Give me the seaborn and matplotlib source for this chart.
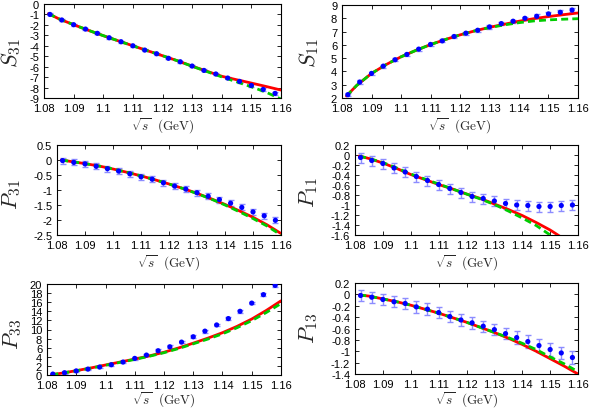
import numpy as np
import pandas as pd
import matplotlib
matplotlib.use("Agg")
import matplotlib.pyplot as plt
import seaborn as sns

sns.set_theme(style="ticks")
plt.rcParams['font.family'] = ['Liberation Sans', 'DejaVu Sans']
plt.rcParams['mathtext.fontset'] = 'cm'

# ---------------- data ----------------
x_pts = [1.082, 1.086, 1.090, 1.094, 1.098, 1.102, 1.106, 1.110, 1.114, 1.118,
         1.122, 1.126, 1.130, 1.134, 1.138, 1.142, 1.146, 1.150, 1.154, 1.158]
x_line = [1.0815, 1.085, 1.09, 1.095, 1.10, 1.105, 1.11, 1.115, 1.12, 1.125,
          1.13, 1.135, 1.14, 1.145, 1.15, 1.155, 1.16]

# S31
s31_pts = [-1.0, -1.53, -1.98, -2.40, -2.81, -3.23, -3.61, -4.00, -4.41, -4.76,
           -5.20, -5.53, -5.94, -6.36, -6.70, -7.09, -7.41, -7.80, -8.18, -8.56]
s31_err = [0.1, 0.1, 0.1, 0.1, 0.1, 0.1, 0.1, 0.1, 0.1, 0.1,
           0.1, 0.1, 0.1, 0.1, 0.1, 0.12, 0.12, 0.13, 0.14, 0.15]
s31_red = [-0.92, -1.42, -1.98, -2.52, -3.03, -3.52, -4.00, -4.48, -4.95, -5.43,
           -5.95, -6.44, -6.92, -7.25, -7.57, -7.90, -8.24]
s31_green = [-0.92, -1.42, -1.98, -2.52, -3.03, -3.52, -4.00, -4.48, -4.95, -5.43,
             -5.96, -6.47, -6.98, -7.45, -7.93, -8.45, -9.10]

# S11
s11_pts = [2.25, 3.20, 3.85, 4.40, 4.88, 5.28, 5.68, 6.03, 6.30, 6.63,
           6.88, 7.10, 7.35, 7.60, 7.78, 8.00, 8.15, 8.33, 8.45, 8.62]
s11_err = [0.12, 0.12, 0.12, 0.12, 0.12, 0.12, 0.12, 0.12, 0.12, 0.12,
           0.12, 0.12, 0.12, 0.12, 0.12, 0.13, 0.14, 0.15, 0.16, 0.17]
s11_red = [2.15, 2.95, 3.85, 4.52, 5.10, 5.58, 6.02, 6.40, 6.75, 7.05,
           7.32, 7.55, 7.78, 7.97, 8.13, 8.27, 8.40]
s11_green = [2.15, 2.95, 3.85, 4.52, 5.10, 5.58, 6.02, 6.40, 6.75, 7.05,
             7.30, 7.50, 7.67, 7.80, 7.88, 7.93, 7.97]

# P31
p31_pts = [-0.02, -0.08, -0.13, -0.21, -0.29, -0.37, -0.46, -0.56, -0.64, -0.76,
           -0.87, -0.97, -1.09, -1.21, -1.32, -1.44, -1.58, -1.73, -1.86, -2.01]
p31_err = [0.1, 0.1, 0.1, 0.1, 0.1, 0.1, 0.1, 0.1, 0.1, 0.1,
           0.1, 0.1, 0.1, 0.1, 0.1, 0.1, 0.1, 0.1, 0.1, 0.1]
p31_red = [0.0, -0.05, -0.12, -0.20, -0.30, -0.41, -0.53, -0.66, -0.80, -0.95,
           -1.11, -1.29, -1.48, -1.69, -1.91, -2.16, -2.45]
p31_green = [0.0, -0.05, -0.12, -0.20, -0.30, -0.41, -0.53, -0.66, -0.80, -0.95,
             -1.12, -1.30, -1.50, -1.72, -1.95, -2.20, -2.50]

# P11
p11_pts = [-0.05, -0.11, -0.17, -0.26, -0.34, -0.43, -0.51, -0.59, -0.67, -0.75,
           -0.83, -0.87, -0.92, -0.97, -1.00, -1.01, -1.03, -1.03, -1.01, -1.00]
p11_err = [0.1, 0.1, 0.1, 0.1, 0.1, 0.1, 0.1, 0.1, 0.1, 0.1,
           0.1, 0.1, 0.1, 0.1, 0.1, 0.1, 0.1, 0.1, 0.1, 0.1]
p11_red = [-0.02, -0.07, -0.16, -0.27, -0.39, -0.49, -0.59, -0.68, -0.78, -0.87,
           -0.98, -1.09, -1.21, -1.35, -1.50, -1.68, -1.86]
p11_green = [-0.02, -0.07, -0.15, -0.26, -0.38, -0.48, -0.58, -0.68, -0.78, -0.88,
             -0.99, -1.12, -1.26, -1.41, -1.60, -1.80, -2.00]

# P33
p33_pts = [0.20, 0.50, 0.90, 1.30, 1.75, 2.26, 2.85, 3.65, 4.38, 5.33,
           6.20, 7.23, 8.40, 9.64, 11.0, 12.4, 14.0, 15.8, 17.66, 19.7]
p33_err = [0.3, 0.3, 0.3, 0.3, 0.3, 0.3, 0.3, 0.3, 0.3, 0.3,
           0.3, 0.3, 0.3, 0.3, 0.3, 0.3, 0.3, 0.3, 0.3, 0.3]
p33_red = [0.05, 0.40, 0.95, 1.55, 2.20, 2.85, 3.50, 4.20, 5.00, 5.95,
           7.00, 8.10, 9.30, 10.70, 12.30, 14.20, 16.30]
p33_green = [0.05, 0.38, 0.92, 1.50, 2.13, 2.78, 3.43, 4.12, 4.90, 5.82,
             6.85, 7.90, 9.05, 10.40, 11.95, 13.75, 15.70]

# P13
p13_pts = [-0.02, -0.05, -0.09, -0.13, -0.16, -0.22, -0.26, -0.32, -0.39, -0.45,
           -0.50, -0.56, -0.62, -0.69, -0.76, -0.83, -0.90, -0.97, -1.03, -1.11]
p13_err = [0.1, 0.1, 0.1, 0.1, 0.1, 0.1, 0.1, 0.1, 0.1, 0.1,
           0.1, 0.1, 0.1, 0.1, 0.11, 0.11, 0.11, 0.11, 0.11, 0.11]
p13_red = [-0.01, -0.03, -0.08, -0.13, -0.19, -0.26, -0.33, -0.41, -0.49, -0.58,
           -0.67, -0.77, -0.88, -1.00, -1.13, -1.26, -1.40]
p13_green = [-0.01, -0.03, -0.08, -0.13, -0.19, -0.26, -0.33, -0.41, -0.49, -0.58,
             -0.67, -0.76, -0.86, -0.97, -1.10, -1.22, -1.36]

x_ticks = [1.08, 1.09, 1.10, 1.11, 1.12, 1.13, 1.14, 1.15, 1.16]
x_ticklabels = ["1.08", "1.09", "1.1", "1.11", "1.12", "1.13", "1.14", "1.15", "1.16"]

panels = [
    dict(name="S_{31}", pts=s31_pts, err=s31_err, red=s31_red, green=s31_green,
         ylim=(-9, 0), yticks=[0, -1, -2, -3, -4, -5, -6, -7, -8, -9],
         ylabels=["0", "-1", "-2", "-3", "-4", "-5", "-6", "-7", "-8", "-9"],
         box=(44, 5, 281, 99), lab=(11, 53), lp=1.5),
    dict(name="S_{11}", pts=s11_pts, err=s11_err, red=s11_red, green=s11_green,
         ylim=(2, 9), yticks=[2, 3, 4, 5, 6, 7, 8, 9],
         ylabels=["2", "3", "4", "5", "6", "7", "8", "9"],
         box=(342, 6, 578, 99), lab=(309, 53), lp=1.5),
    dict(name="P_{31}", pts=p31_pts, err=p31_err, red=p31_red, green=p31_green,
         ylim=(-2.5, 0.5), yticks=[0.5, 0, -0.5, -1, -1.5, -2, -2.5],
         ylabels=["0.5", "0", "-0.5", "-1", "-1.5", "-2", "-2.5"],
         box=(57, 146, 281, 236), lab=(12, 195), lp=1.5),
    dict(name="P_{11}", pts=p11_pts, err=p11_err, red=p11_red, green=p11_green,
         ylim=(-1.6, 0.2), yticks=[0.2, 0, -0.2, -0.4, -0.6, -0.8, -1, -1.2, -1.4, -1.6],
         ylabels=["0.2", "0", "-0.2", "-0.4", "-0.6", "-0.8", "-1", "-1.2", "-1.4", "-1.6"],
         box=(355, 146, 578, 236), lab=(309, 193), lp=1.5),
    dict(name="P_{33}", pts=p33_pts, err=p33_err, red=p33_red, green=p33_green,
         ylim=(0, 20), yticks=[0, 2, 4, 6, 8, 10, 12, 14, 16, 18, 20],
         ylabels=["0", "2", "4", "6", "8", "10", "12", "14", "16", "18", "20"],
         box=(47, 285, 281, 376), lab=(13, 334), lp=0.0),
    dict(name="P_{13}", pts=p13_pts, err=p13_err, red=p13_red, green=p13_green,
         ylim=(-1.4, 0.2), yticks=[0.2, 0, -0.2, -0.4, -0.6, -0.8, -1, -1.2, -1.4],
         ylabels=["0.2", "0", "-0.2", "-0.4", "-0.6", "-0.8", "-1", "-1.2", "-1.4"],
         box=(355, 284, 578, 375), lab=(309, 328), lp=0.5),
]

W, H = 590, 410
fig = plt.figure(figsize=(W / 100, H / 100), dpi=100)

for p in panels:
    l, t, r, b = p["box"]
    ax = fig.add_axes([l / W, 1 - b / H, (r - l) / W, (b - t) / H])
    df_line = pd.DataFrame({"x": x_line, "red": p["red"], "green": p["green"]})
    ax.errorbar(x_pts, p["pts"], yerr=p["err"], fmt="none", ecolor="#8c8cff",
                elinewidth=1.0, capsize=2.5, capthick=1.0, zorder=2)
    sns.lineplot(data=df_line, x="x", y="red", ax=ax, color="#ff0000",
                 linewidth=2.0, zorder=3, estimator=None, sort=False)
    sns.lineplot(data=df_line, x="x", y="green", ax=ax, color="#00cc00",
                 linewidth=2.0, linestyle=(0, (2.5, 1.5)), zorder=4,
                 estimator=None, sort=False)
    df_pts = pd.DataFrame({"x": x_pts, "y": p["pts"]})
    sns.scatterplot(data=df_pts, x="x", y="y", ax=ax, color="#0000ff", marker="o",
                    s=14, edgecolor="none", zorder=5)
    ax.set_xlim(1.08, 1.16)
    ax.set_ylim(*p["ylim"])
    ax.set_xticks(x_ticks)
    ax.set_xticklabels(x_ticklabels, fontsize=8)
    ax.set_yticks(p["yticks"])
    ax.set_yticklabels(p["ylabels"], fontsize=8)
    ax.tick_params(axis="x", direction="in", length=3, width=0.6, top=True,
                   pad=3.5, colors="black")
    ax.tick_params(axis="y", direction="in", length=3, width=0.6, right=True,
                   pad=3.5, colors="black")
    for s in ax.spines.values():
        s.set_visible(True)
        s.set_linewidth(0.8)
        s.set_color("black")
    ax.set_xlabel(r"$\sqrt{s}\ \ \mathrm{(GeV)}$", fontsize=9.5, labelpad=p["lp"])
    ax.set_ylabel("")
    fig.text(p["lab"][0] / W, 1 - p["lab"][1] / H, "$" + p["name"] + "$",
             rotation=90, fontsize=16, ha="center", va="center")

fig.savefig("out.png", dpi=100)
